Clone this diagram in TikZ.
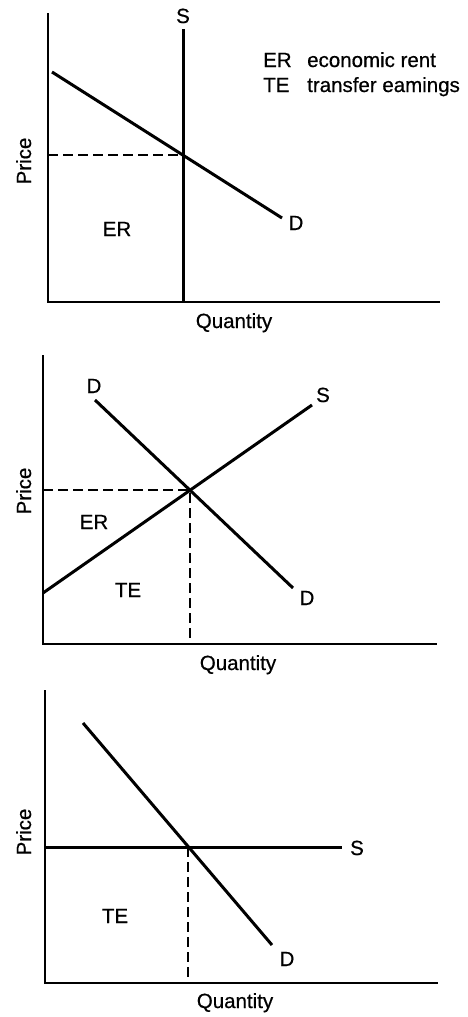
\documentclass[tikz,border=0pt]{standalone}
\usepackage{fontspec}
\setmainfont{Liberation Sans}
\newfontfamily\lblfont{Liberation Sans}[FakeBold=0.6]
\begin{document}
\begin{tikzpicture}[x=1pt,y=-1pt,
  axis/.style={line width=1.7pt},
  curve/.style={line width=3pt},
  guide/.style={line width=1.5pt,dash pattern=on 10pt off 5pt},
  lbl/.style={inner sep=0pt,anchor=base,font=\lblfont\fontsize{20.5}{24}\selectfont},
  lgd/.style={inner sep=0pt,anchor=base west,font=\lblfont\fontsize{20.5}{24}\selectfont}]
\useasboundingbox[fill=white] (0,0) rectangle (467,1017);

% ---------- Panel 1 ----------
\coordinate (o1) at (48,302);
\coordinate (y1) at (48,13);
\coordinate (x1) at (440,302);
\coordinate (s1t) at (183,29);
\coordinate (s1b) at (183,302);
\coordinate (d1a) at (52,72);
\coordinate (d1b) at (282,218);
\coordinate (e1) at (183,155);
\coordinate (p1) at (48,155);
\draw[axis] (y1) -- (o1) -- (x1);
\draw[curve] (s1t) -- (s1b);
\draw[curve] (d1a) -- (d1b);
\draw[guide] (p1) -- (e1);
\node[lbl] (S1) at (183,23) {S};
\node[lbl] (D1) at (296,230) {D};
\node[lbl] (ER1) at (117,236) {ER};
\node[lgd] (lg1a) at (263,67) {ER};
\node[lgd] (lg1b) at (307,67) {economic rent};
\node[lgd] (lg2a) at (263,92) {TE};
\node[lgd] (lg2b) at (307,92) {transfer eamings};
\node[lbl,rotate=90] (P1) at (31,161) {Price};
\node[lbl] (Q1) at (234,328) {Quantity};

% ---------- Panel 2 ----------
\coordinate (o2) at (43,644);
\coordinate (y2) at (43,355);
\coordinate (x2) at (437,644);
\coordinate (d2a) at (95,400);
\coordinate (d2b) at (293,588);
\coordinate (s2a) at (43,593);
\coordinate (s2b) at (312,405);
\coordinate (e2) at (190,490);
\coordinate (p2) at (43,490);
\coordinate (q2) at (190,644);
\draw[axis] (y2) -- (o2) -- (x2);
\draw[curve] (d2a) -- (d2b);
\draw[curve] (s2a) -- (s2b);
\draw[guide] (p2) -- (e2) -- (q2);
\node[lbl] (D2a) at (94,393) {D};
\node[lbl] (S2) at (323,402) {S};
\node[lbl] (D2b) at (307,605) {D};
\node[lbl] (ER2) at (94,529) {ER};
\node[lbl] (TE2) at (128,597) {TE};
\node[lbl,rotate=90] (P2) at (31,491) {Price};
\node[lbl] (Q2) at (238,670) {Quantity};

% ---------- Panel 3 ----------
\coordinate (o3) at (45,983);
\coordinate (y3) at (45,690);
\coordinate (x3) at (438,983);
\coordinate (d3a) at (83,723);
\coordinate (d3b) at (272,945);
\coordinate (s3a) at (45,847);
\coordinate (s3b) at (342,847);
\coordinate (e3) at (188,847);
\coordinate (q3) at (188,983);
\draw[axis] (y3) -- (o3) -- (x3);
\draw[curve] (d3a) -- (d3b);
\draw[curve] (s3a) -- (s3b);
\draw[guide] (e3) -- (q3);
\node[lbl] (S3) at (357,855) {S};
\node[lbl] (D3) at (287,966) {D};
\node[lbl] (TE3) at (115,923) {TE};
\node[lbl,rotate=90] (P3) at (31,832) {Price};
\node[lbl] (Q3) at (235,1008) {Quantity};
\end{tikzpicture}
\end{document}
